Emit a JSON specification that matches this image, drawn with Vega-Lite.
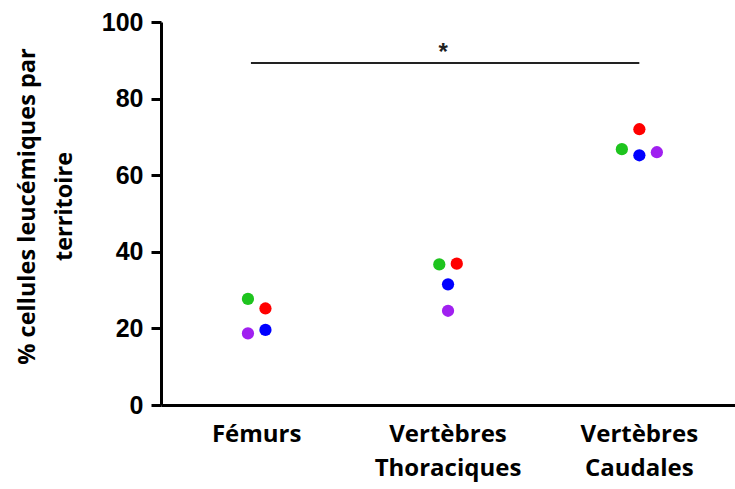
{
  "$schema": "https://vega.github.io/schema/vega-lite/v6.json",
  "width": 574,
  "height": 383,
  "autosize": {"type": "none"},
  "padding": {"left": 161, "top": 22, "right": 0, "bottom": 84},
  "background": "white",
  "config": {"view": {"stroke": null}, "font": "Open Sans"},
  "datasets": {
    "points": [
      {"territoire": "Fémurs", "souris": "S1", "jitter": -1, "pct": 27.7},
      {"territoire": "Fémurs", "souris": "S2", "jitter": 1, "pct": 25.2},
      {"territoire": "Fémurs", "souris": "S3", "jitter": 1, "pct": 19.6},
      {"territoire": "Fémurs", "souris": "S4", "jitter": -1, "pct": 18.7},
      {"territoire": "Vertèbres Thoraciques", "souris": "S1", "jitter": -1, "pct": 36.7},
      {"territoire": "Vertèbres Thoraciques", "souris": "S2", "jitter": 1, "pct": 36.9},
      {"territoire": "Vertèbres Thoraciques", "souris": "S3", "jitter": 0, "pct": 31.5},
      {"territoire": "Vertèbres Thoraciques", "souris": "S4", "jitter": 0, "pct": 24.6},
      {"territoire": "Vertèbres Caudales", "souris": "S1", "jitter": -2, "pct": 66.8},
      {"territoire": "Vertèbres Caudales", "souris": "S2", "jitter": 0, "pct": 72.0},
      {"territoire": "Vertèbres Caudales", "souris": "S3", "jitter": 0, "pct": 65.2},
      {"territoire": "Vertèbres Caudales", "souris": "S4", "jitter": 2, "pct": 66.0}
    ],
    "signif": [
      {"territoire": "Fémurs", "fin": "Vertèbres Caudales", "pct": 89.3, "milieu": "Vertèbres Thoraciques", "etoile_pct": 90.0, "label": "*"}
    ]
  },
  "layer": [
    {
      "data": {"name": "points"},
      "mark": {"type": "point", "filled": true, "size": 150, "opacity": 1, "strokeWidth": 0},
      "encoding": {
        "x": {
          "field": "territoire",
          "type": "nominal",
          "sort": ["Fémurs", "Vertèbres Thoraciques", "Vertèbres Caudales"],
          "scale": {"type": "band", "paddingInner": 0, "paddingOuter": 0, "domain": ["Fémurs", "Vertèbres Thoraciques", "Vertèbres Caudales"]},
          "axis": {
            "title": null,
            "labelAngle": 0,
            "labelExpr": "split(datum.label, ' ')",
            "labelFont": "Open Sans",
            "labelFontSize": 24,
            "labelFontWeight": "bold",
            "labelColor": "black",
            "labelBaseline": "top",
            "labelPadding": 17,
            "labelLineHeight": 34,
            "ticks": false,
            "tickSize": 0,
            "domainWidth": 3,
            "domainColor": "black",
            "grid": false
          }
        },
        "xOffset": {
          "field": "jitter",
          "type": "quantitative",
          "scale": {"domain": [-2, 2], "range": [78.2, 113.2]}
        },
        "y": {
          "field": "pct",
          "type": "quantitative",
          "scale": {"domain": [0, 100], "nice": false, "zero": true},
          "axis": {
            "values": [0, 20, 40, 60, 80, 100],
            "grid": false,
            "labelFont": "Liberation Sans",
            "labelFontWeight": "bold",
            "labelFontSize": 25,
            "labelColor": "black",
            "labelPadding": 8,
            "tickSize": 10,
            "tickWidth": 3,
            "tickColor": "black",
            "domainWidth": 3,
            "domainColor": "black",
            "title": ["% cellules leucémiques par", "territoire"],
            "titleFont": "Open Sans",
            "titleFontSize": 23.5,
            "titleFontWeight": "bold",
            "titleColor": "black",
            "titleLineHeight": 37,
            "titleAngle": -90,
            "titleAlign": "center",
            "titleBaseline": "alphabetic",
            "titleX": -127,
            "titleY": 184
          }
        },
        "color": {
          "field": "souris",
          "type": "nominal",
          "scale": {"domain": ["S1", "S2", "S3", "S4"], "range": ["#1ec41e", "#ff0000", "#0000ff", "#a020f0"]},
          "legend": null
        }
      }
    },
    {
      "data": {"name": "signif"},
      "mark": {"type": "rule", "strokeWidth": 2, "color": "#222222"},
      "encoding": {
        "x": {"field": "territoire", "type": "nominal", "bandPosition": 0.47},
        "x2": {"field": "fin"},
        "y": {"field": "pct", "type": "quantitative"}
      }
    },
    {
      "data": {"name": "signif"},
      "mark": {"type": "text", "font": "Liberation Sans", "fontWeight": "bold", "fontSize": 24, "baseline": "alphabetic", "align": "center", "color": "#222222"},
      "encoding": {
        "x": {"field": "milieu", "type": "nominal", "bandPosition": 0.475},
        "y": {"field": "etoile_pct", "type": "quantitative"},
        "text": {"field": "label"}
      }
    }
  ]
}
